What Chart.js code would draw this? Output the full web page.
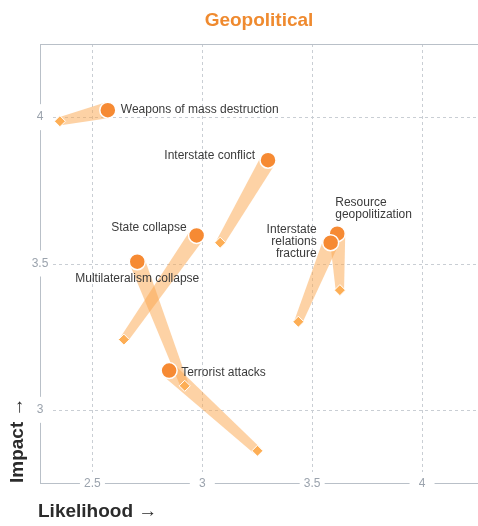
<!DOCTYPE html>
<html>
<head>
<meta charset="utf-8">
<script src="https://cdn.jsdelivr.net/npm/chart.js@4.4.1/dist/chart.umd.min.js"></script>
<style>
html,body{margin:0;padding:0;background:#fff;}
#wrap{width:478px;height:526px;}
</style>
</head>
<body>
<div id="wrap"><canvas id="c" width="478" height="526"></canvas></div>
<script>
const chartTitle = 'Geopolitical';
const xTitle = 'Likelihood \u2192';
const yTitle = 'Impact \u2192';
const risks = ['Weapons of mass destruction', 'Interstate conflict', 'State collapse', 'Multilateralism collapse', 'Terrorist attacks', 'Resource\ngeopolitization', 'Interstate\nrelations\nfracture'];
const likelihoodNow = [2.570, 3.299, 2.974, 2.704, 2.849, 3.614, 3.584];
const impactNow = [4.024, 3.853, 3.596, 3.506, 3.134, 3.602, 3.571];
const likelihoodPrev = [2.352, 3.081, 2.643, 2.920, 3.251, 3.626, 3.437];
const impactPrev = [3.986, 3.571, 3.240, 3.082, 2.860, 3.409, 3.301];
const xTicks = [2.5, 3, 3.5, 4];
const yTicks = [3, 3.5, 4];

// label placement (pixel offsets from the current point) and alignment
const labelStyle = [
  {dx: 13, dy: 0, align: 'left'},
  {dx: -13, dy: -5, align: 'right'},
  {dx: -10, dy: -8, align: 'right'},
  {dx: 0, dy: 17, align: 'center'},
  {dx: 12, dy: 2, align: 'left'},
  {dx: -2, dy: -31, align: 'left'},
  {dx: -14, dy: -13, align: 'right'}
];

const FONT = '"Liberation Sans", Arial, Helvetica, sans-serif';
const ORANGE = '#f68a33';
const DIAMOND = '#fdae55';
const BAND = 'rgba(251,165,75,0.5)';
const GRID = '#c9ced4';
const AXIS = '#b9c0c8';
const TICK = '#9ba3ad';

const nowPts = likelihoodNow.map((v, i) => ({x: v, y: impactNow[i]}));
const prevPts = likelihoodPrev.map((v, i) => ({x: v, y: impactPrev[i]}));

const decor = {
  id: 'decor',
  beforeDatasetsDraw(chart) {
    const ctx = chart.ctx, xs = chart.scales.x, ys = chart.scales.y, a = chart.chartArea;
    ctx.save();
    // grid
    ctx.strokeStyle = GRID; ctx.lineWidth = 1; ctx.setLineDash([3, 3]);
    xTicks.forEach(t => {
      const px = Math.round(xs.getPixelForValue(t)) + 0.5;
      ctx.beginPath(); ctx.moveTo(px, a.top); ctx.lineTo(px, a.bottom - 11); ctx.stroke();
    });
    yTicks.forEach(t => {
      const py = Math.round(ys.getPixelForValue(t)) + 0.5;
      ctx.beginPath(); ctx.moveTo(a.left + 13, py); ctx.lineTo(a.right, py); ctx.stroke();
    });
    ctx.setLineDash([]);
    // axis lines with gaps for labels
    ctx.strokeStyle = AXIS;
    const by = Math.round(a.bottom) + 0.5;
    const lx = Math.round(a.left) + 0.5;
    ctx.beginPath(); ctx.moveTo(a.left, Math.round(a.top) + 0.5); ctx.lineTo(a.right, Math.round(a.top) + 0.5); ctx.stroke();
    let start = a.left;
    xTicks.forEach(t => {
      const px = xs.getPixelForValue(t);
      ctx.beginPath(); ctx.moveTo(start, by); ctx.lineTo(px - 12.5, by); ctx.stroke();
      start = px + 12.5;
    });
    ctx.beginPath(); ctx.moveTo(start, by); ctx.lineTo(a.right, by); ctx.stroke();
    let yStart = a.top;
    yTicks.slice().reverse().forEach(t => {
      const py = ys.getPixelForValue(t);
      ctx.beginPath(); ctx.moveTo(lx, yStart); ctx.lineTo(lx, py - 13); ctx.stroke();
      yStart = py + 13;
    });
    ctx.beginPath(); ctx.moveTo(lx, yStart); ctx.lineTo(lx, a.bottom); ctx.stroke();
    // tick labels
    ctx.fillStyle = TICK; ctx.font = '12px ' + FONT; ctx.textAlign = 'center'; ctx.textBaseline = 'middle';
    xTicks.forEach(t => ctx.fillText(String(t), xs.getPixelForValue(t), a.bottom + 1));
    yTicks.forEach(t => ctx.fillText(String(t), a.left, ys.getPixelForValue(t)));
    // bands
    ctx.fillStyle = BAND;
    nowPts.forEach((p, i) => {
      const x1 = xs.getPixelForValue(p.x), y1 = ys.getPixelForValue(p.y);
      const x0 = xs.getPixelForValue(prevPts[i].x), y0 = ys.getPixelForValue(prevPts[i].y);
      const dx = x1 - x0, dy = y1 - y0, len = Math.hypot(dx, dy);
      const nx = -dy / len, ny = dx / len;
      const w0 = 4.2, w1 = 8;
      ctx.beginPath();
      ctx.moveTo(x0 + nx * w0, y0 + ny * w0);
      ctx.lineTo(x1 + nx * w1, y1 + ny * w1);
      ctx.lineTo(x1 - nx * w1, y1 - ny * w1);
      ctx.lineTo(x0 - nx * w0, y0 - ny * w0);
      ctx.closePath(); ctx.fill();
    });
    ctx.restore();
  },
  afterDatasetsDraw(chart) {
    const ctx = chart.ctx, xs = chart.scales.x, ys = chart.scales.y, a = chart.chartArea;
    ctx.save();
    ctx.fillStyle = '#3b3b3b'; ctx.font = '12px ' + FONT; ctx.textBaseline = 'middle';
    risks.forEach((r, i) => {
      const s = labelStyle[i];
      const px = xs.getPixelForValue(likelihoodNow[i]) + s.dx;
      const py = ys.getPixelForValue(impactNow[i]) + s.dy;
      ctx.textAlign = s.align;
      r.split('\n').forEach((line, k) => ctx.fillText(line, px, py + k * 12));
    });
    // titles
    ctx.fillStyle = '#ef8a2f'; ctx.font = 'bold 19px ' + FONT; ctx.textAlign = 'center'; ctx.textBaseline = 'alphabetic';
    ctx.fillText(chartTitle, (a.left + a.right) / 2, 26);
    ctx.fillStyle = '#2b2b2b'; ctx.font = 'bold 19px ' + FONT; ctx.textAlign = 'left'; ctx.textBaseline = 'middle';
    ctx.fillText(xTitle, 38, 512);
    ctx.save();
    ctx.translate(18, a.bottom); ctx.rotate(-Math.PI / 2);
    ctx.fillText(yTitle, 0, 0);
    ctx.restore();
    ctx.restore();
  }
};

new Chart(document.getElementById('c'), {
  type: 'scatter',
  data: {
    datasets: [
      {label: 'previous', data: prevPts, pointStyle: 'rectRot', pointRadius: 5.5, backgroundColor: DIAMOND, borderColor: '#ffffff', borderWidth: 1, order: 2},
      {label: 'current', data: nowPts, pointStyle: 'circle', pointRadius: 8, backgroundColor: ORANGE, borderColor: '#ffffff', borderWidth: 1.5, order: 1}
    ]
  },
  options: {
    responsive: false,
    animation: false,
    events: [],
    layout: {autoPadding: false, padding: {left: 40, top: 44, right: 0, bottom: 43}},
    plugins: {legend: {display: false}, title: {display: false}, tooltip: {enabled: false}},
    scales: {
      x: {type: 'linear', display: false, min: 2.2614, max: 4.2545},
      y: {type: 'linear', display: false, min: 2.75, max: 4.25}
    }
  },
  plugins: [decor]
});
</script>
</body>
</html>
